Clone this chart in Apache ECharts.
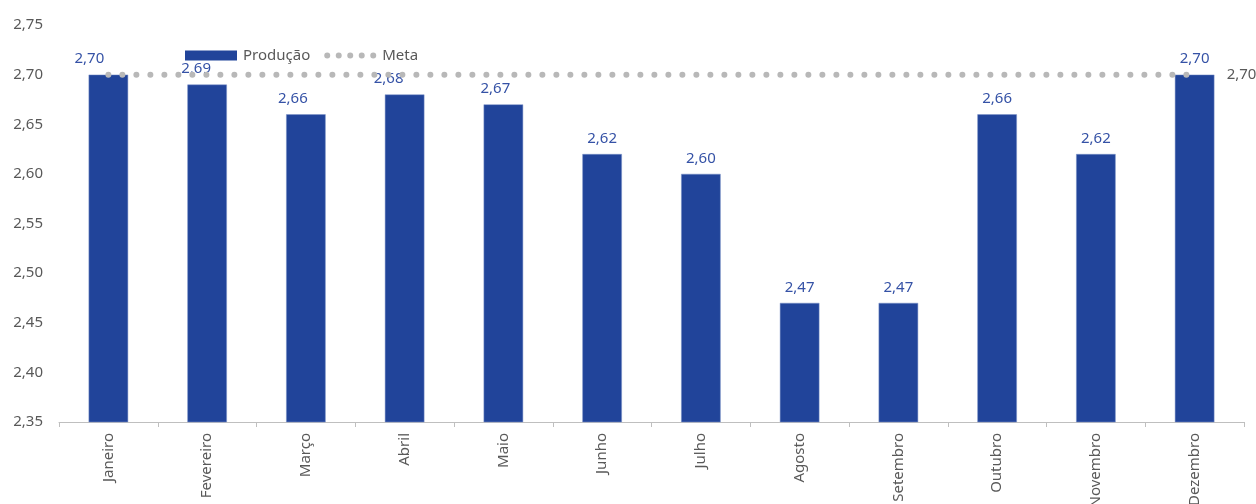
<!DOCTYPE html>
<html>
<head>
<meta charset="utf-8">
<script src="https://cdn.jsdelivr.net/npm/echarts@6/dist/echarts.min.js"></script>
<style>
  html, body { margin: 0; padding: 0; background: #fff; }
  #chart { width: 1256px; height: 504px; }
</style>
</head>
<body>
<div id="chart"></div>
<script>
// dados
const meses = ['Janeiro', 'Fevereiro', 'Março', 'Abril', 'Maio', 'Junho', 'Julho', 'Agosto', 'Setembro', 'Outubro', 'Novembro', 'Dezembro']
const producao = [2.70, 2.69, 2.66, 2.68, 2.67, 2.62, 2.60, 2.47, 2.47, 2.66, 2.62, 2.70]
const meta = [2.70, 2.70, 2.70, 2.70, 2.70, 2.70, 2.70, 2.70, 2.70, 2.70, 2.70, 2.70]

// deslocamento horizontal dos rótulos (como no original)
const labelShift = [-19, -11, -13, -16, -8, 0, 0, 0, 0, 0, 0, 0]

const BAR_COLOR = '#21449a'
const LABEL_BLUE = '#3552a6'
const GREY_TEXT = '#595959'
const DOT_GREY = '#b8b8b8'
const FONT = 'Noto Sans'

const fmt = v => Number(v).toFixed(2).replace('.', ',')

// ícone da legenda "Meta": 5 pontos (caixa 52x10)
const dot = cx => `M${cx - 3},5 a3,3 0 1,0 6,0 a3,3 0 1,0 -6,0 Z `
const metaIcon = 'path://M0,0 L0,0 Z M52,10 L52,10 Z ' + [3, 14.5, 26, 37.5, 49].map(dot).join('')

const chart = echarts.init(document.getElementById('chart'))

const option = {
  backgroundColor: '#fff',
  animation: false,
  textStyle: { fontFamily: FONT },
  grid: { left: 59, right: 12, top: 25, bottom: 82, containLabel: false, outerBoundsMode: 'none' },
  legend: {
    left: 185,
    top: 48,
    padding: 0,
    itemWidth: 52,
    itemHeight: 10,
    itemGap: 14,
    textStyle: { color: GREY_TEXT, fontSize: 15, fontFamily: FONT, padding: [0, 0, 0, 1] },
    data: [
      { name: 'Produção', icon: 'rect', itemStyle: { color: BAR_COLOR, borderWidth: 0 } },
      { name: 'Meta', icon: metaIcon, itemStyle: { color: DOT_GREY, borderWidth: 0 } }
    ]
  },
  xAxis: {
    type: 'category',
    data: meses,
    boundaryGap: true,
    axisLine: { lineStyle: { color: '#bfbfbf', width: 1 } },
    axisTick: { show: true, length: 5, lineStyle: { color: '#bfbfbf' } },
    axisLabel: {
      rotate: 90,
      interval: 0,
      color: GREY_TEXT,
      fontSize: 15,
      fontFamily: FONT,
      margin: 11
    }
  },
  yAxis: {
    type: 'value',
    min: 2.35,
    max: 2.75,
    interval: 0.05,
    axisLine: { show: false },
    axisTick: { show: false },
    splitLine: { show: false },
    axisLabel: {
      color: GREY_TEXT,
      fontSize: 15,
      fontFamily: FONT,
      margin: 16,
      formatter: v => fmt(v)
    }
  },
  series: [
    {
      name: 'Produção',
      type: 'bar',
      barWidth: '40%',
      itemStyle: { color: BAR_COLOR, borderColor: '#7d92c9', borderWidth: 0.5 },
      label: {
        show: true,
        position: 'top',
        distance: 8,
        color: LABEL_BLUE,
        fontSize: 15,
        fontFamily: FONT,
        formatter: p => fmt(p.value)
      },
      data: producao.map((v, i) => ({ value: v, label: { offset: [labelShift[i], 0] } })),
      z: 2
    },
    {
      name: 'Meta',
      type: 'line',
      symbol: 'none',
      color: DOT_GREY,
      lineStyle: { color: DOT_GREY, width: 6, type: [0, 14], cap: 'round' },
      endLabel: {
        show: true,
        distance: 32,
        color: GREY_TEXT,
        fontSize: 15,
        fontFamily: FONT,
        formatter: p => fmt(p.value)
      },
      data: meta,
      z: 3
    }
  ]
}

chart.setOption(option)
</script>
</body>
</html>
